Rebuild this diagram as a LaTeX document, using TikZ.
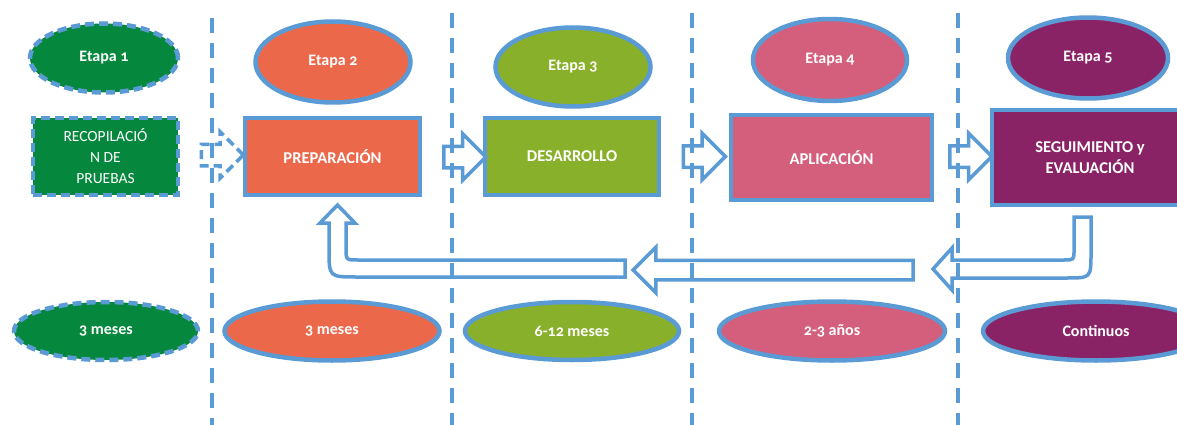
\documentclass[tikz,border=0pt]{standalone}
\usepackage{fontspec}
\setmainfont{Carlito}[Numbers=OldStyle]
\usetikzlibrary{shapes.geometric,shapes.arrows}

\definecolor{rim}{HTML}{5B9BD5}
\definecolor{verde}{HTML}{05883D}
\definecolor{naranja}{HTML}{EC684A}
\definecolor{oliva}{HTML}{89B02A}
\definecolor{rosa}{HTML}{D45F7C}
\definecolor{morado}{HTML}{8A2366}

\begin{document}
\begin{tikzpicture}[x=1pt,y=-1pt]
	\tikzset{etapa/.style={ellipse,draw=rim,line width=4.5pt,text=white,inner sep=0pt,font=\bfseries\fontsize{16}{19}\selectfont}}
	\tikzset{fase/.style={rectangle,draw=rim,line width=4.5pt,text=white,align=center,font=\bfseries\fontsize{16.5}{21}\selectfont}}
	\tikzset{punteado/.style={dash pattern=on 9pt off 5pt}}
	\tikzset{paso/.style={single arrow,draw=rim,fill=white,line width=3.5pt,minimum width=0pt,minimum height=42pt,inner sep=9pt,single arrow head extend=12.5pt}}
	\tikzset{separador/.style={draw=rim,line width=3.5pt,dash pattern=on 15pt off 10pt}}
	\useasboundingbox (0,0) rectangle (1177,425);

	% etapas
	\node[etapa,punteado,fill=verde,minimum width=148pt,minimum height=69pt] (e1) at (104,58) {Etapa 1};
	\node[etapa,fill=naranja,minimum width=155pt,minimum height=81pt] (e2) at (333,62) {Etapa 2};
	\node[etapa,fill=oliva,minimum width=155pt,minimum height=79pt] (e3) at (573,67) {Etapa 3};
	\node[etapa,fill=rosa,minimum width=154pt,minimum height=82pt] (e4) at (830,60) {Etapa 4};
	\node[etapa,fill=morado,minimum width=160pt,minimum height=81pt] (e5) at (1088,58) {Etapa 5};

	% fases
	\node[fase,punteado,fill=verde,minimum width=145pt,minimum height=77pt,font=\fontsize{15.5}{21}\selectfont] (recop) at (105.5,156.5) {RECOPILACIÓ\\N DE\\PRUEBAS};
	\node[fase,fill=naranja,minimum width=175pt,minimum height=77pt] (prep) at (332.5,156.5) {PREPARACIÓN};
	\node[fase,fill=oliva,minimum width=174pt,minimum height=77pt] (des) at (572,156.5) {DESARROLLO};
	\node[fase,fill=rosa,minimum width=201pt,minimum height=85pt] (apl) at (831.5,157.5) {APLICACIÓN};
	\node[fase,fill=morado,minimum width=196pt,minimum height=95pt] (seg) at (1090,157.5) {SEGUIMIENTO y\\EVALUACIÓN};

	% flechas
	\node[paso,punteado] (p1) at (217,155) {};
	\node[paso] (p2) at (459.5,157) {};
	\node[paso] (p3) at (699,156.5) {};
	\node[paso] (p4) at (965.5,156.5) {};
	\node[paso,shape border rotate=180,minimum height=280pt,inner sep=8pt,single arrow head extend=13pt] (vuelta) at (778,270) {};

	\draw[rim,fill=white,line width=3.5pt] (1074,217) -- (1091,217) -- (1091,253)
		.. controls (1091,278) .. (1066,278) -- (952,278) -- (952,290) -- (933,269)
		-- (952,248) -- (952,260) -- (1064,260) .. controls (1074,260) .. (1074,250) -- cycle;
	\draw[rim,fill=white,line width=3.5pt] (625,260) -- (358,260) .. controls (346,260) .. (346,248)
		-- (346,223) -- (355,223) -- (337.5,205) -- (320,223) -- (329,223) -- (329,249)
		.. controls (329,277) .. (357,277) -- (625,277) -- cycle;

	% duraciones
	\node[etapa,punteado,fill=verde,minimum width=184pt,minimum height=58pt] (d1) at (106,331) {3 meses};
	\node[etapa,fill=naranja,minimum width=215pt,minimum height=59pt] (d2) at (332,331) {3 meses};
	\node[etapa,fill=oliva,minimum width=214pt,minimum height=58pt] (d3) at (572,331) {6-12 meses};
	\node[etapa,fill=rosa,minimum width=226pt,minimum height=59pt] (d4) at (832,331) {2-3 años};
	\node[etapa,fill=morado,minimum width=226pt,minimum height=59pt] (d5) at (1096,331) {Continuos};

	% separadores
	\draw[separador] (212,18) -- (212,425);
	\draw[separador] (452,13) -- (452,425);
	\draw[separador] (692,13) -- (692,425);
	\draw[separador] (958,13) -- (958,425);
\end{tikzpicture}
\end{document}
